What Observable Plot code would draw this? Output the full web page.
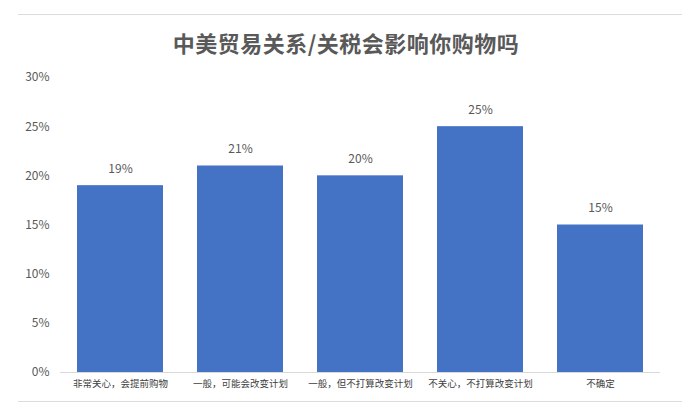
<!DOCTYPE html>
<html><head><meta charset="utf-8">
<script src="https://cdn.jsdelivr.net/npm/d3@7"></script>
<script src="https://cdn.jsdelivr.net/npm/@observablehq/plot@0.6"></script>
<style>
body{margin:0;background:#fff;font-family:"Noto Sans CJK SC","Noto Sans",sans-serif;}
#wrap{position:relative;width:692px;height:415px;overflow:hidden;}
.hline{position:absolute;left:18px;width:664px;height:1px;background:#dcdcdc;}
#title{position:absolute;top:26px;left:0;width:692px;text-align:center;font-size:22px;font-weight:bold;color:#595959;letter-spacing:0.5px;}
#chart{position:absolute;left:0;top:0;}
</style></head>
<body>
<div id="wrap">
<div class="hline" style="top:14px"></div>
<div class="hline" style="top:401px"></div>
<div id="chart"></div>
<div id="title">中美贸易关系/关税会影响你购物吗</div>
</div>
<script>
const categories = ["非常关心，会提前购物","一般，可能会改变计划","一般，但不打算改变计划","不关心，不打算改变计划","不确定"];
const values = [0.19, 0.21, 0.20, 0.25, 0.15];
const yTicks = [0, 0.05, 0.10, 0.15, 0.20, 0.25, 0.30];

const data = categories.map((c, i) => ({category: c, value: values[i]}));

const chart = Plot.plot({
  width: 692,
  height: 415,
  marginLeft: 60,
  marginRight: 32,
  marginTop: 77,
  marginBottom: 43,
  style: {fontFamily: '"Noto Sans CJK SC","Noto Sans",sans-serif', background: "transparent", overflow: "visible"},
  x: {domain: categories, paddingInner: 0.286, paddingOuter: 0.136, label: null},
  y: {domain: [0, 0.30], label: null},
  marks: [
    Plot.barY(data, {x: "category", y: "value", fill: "#4472C4"}),
    Plot.ruleY([0], {stroke: "#d9d9d9", strokeWidth: 1}),
    Plot.axisY({ticks: yTicks, tickFormat: d => Math.round(d*100) + "%", tickSize: 0, tickPadding: 11, fontSize: 12, fill: "#595959", label: null}),
    Plot.axisX({tickSize: 0, tickPadding: 8, fontSize: 9.5, fill: "#404040", label: null}),
    Plot.text(data, {x: "category", y: "value", text: d => Math.round(d.value*100) + "%", dy: -17, fontSize: 12, fill: "#595959"})
  ]
});
document.getElementById("chart").appendChild(chart);
</script>
</body></html>
